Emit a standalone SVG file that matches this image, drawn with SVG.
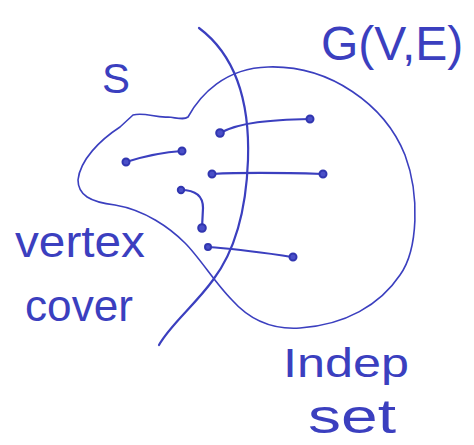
<svg xmlns="http://www.w3.org/2000/svg" width="474" height="445" viewBox="0 0 474 445">
<style>
.ink{fill:none;stroke:#3b3fbf;stroke-linecap:round;stroke-linejoin:round}
.out{stroke-width:1.6}
.edge{stroke-width:2.2}
.dot{fill:#4a4fc8;stroke:#3136b0;stroke-width:2}
.lbl{fill:#3b3fbf;font-family:"Liberation Sans","DejaVu Sans",sans-serif}
</style>
<rect width="474" height="445" fill="#ffffff"/>
<g id="graph-outline">
<path class="ink out" d="M133,115 C145,112 155,118 168,117 C178,118 184,120 188,117 C200,95 225,68 268,67 C330,65 385,105 405,155 C420,195 418,250 400,275 C380,305 345,325 300,328 C270,330 248,318 232,300 C215,283 200,258 185,243 C170,228 145,210 115,205 C90,202 78,195 78,180 C80,160 100,140 120,127 Z"/>
</g>
<g id="divider">
<path class="ink" stroke-width="2.2" d="M199,28 C235,55 250,100 248,160 C246,215 232,255 213,280 C195,305 170,325 159,345"/>
</g>
<g id="connectors">
<path class="ink edge" d="M126,162 C145,156 165,152 182,151"/>
<path class="ink edge" d="M220,133 C240,122 270,120 310,119"/>
<path class="ink edge" d="M212,174 C250,172 290,173 323,174"/>
<path class="ink edge" d="M181,190 C196,190 203,196 203,208 L202,228"/>
<path class="ink edge" d="M208,247 C240,249 265,253 293,257"/>
</g>
<g id="v1"><circle class="dot" cx="126" cy="162" r="3.5"/></g>
<g id="v2"><circle class="dot" cx="182" cy="151" r="3.5"/></g>
<g id="v3"><circle class="dot" cx="220" cy="133" r="3.8"/></g>
<g id="v4"><circle class="dot" cx="310" cy="119" r="3.5"/></g>
<g id="v5"><circle class="dot" cx="212" cy="174" r="3.5"/></g>
<g id="v6"><circle class="dot" cx="323" cy="174" r="3.5"/></g>
<g id="v7"><circle class="dot" cx="181" cy="190" r="3.2"/></g>
<g id="v8"><circle class="dot" cx="202" cy="228" r="3.8"/></g>
<g id="v9"><circle class="dot" cx="208" cy="247" r="3"/></g>
<g id="v10"><circle class="dot" cx="293" cy="257" r="3.5"/></g>
<g id="labels">
<text class="lbl" x="102" y="93" font-size="42">S</text>
<text class="lbl" x="321" y="60" font-size="48">G(V,E)</text>
<text class="lbl" x="15" y="257" font-size="44" textLength="130" lengthAdjust="spacingAndGlyphs">vertex</text>
<text class="lbl" x="25" y="321" font-size="44" textLength="108" lengthAdjust="spacingAndGlyphs">cover</text>
<text class="lbl" x="283" y="377" font-size="40" textLength="126" lengthAdjust="spacingAndGlyphs">Indep</text>
<text class="lbl" x="308" y="433" font-size="48" textLength="88" lengthAdjust="spacingAndGlyphs">set</text>
</g>
</svg>
